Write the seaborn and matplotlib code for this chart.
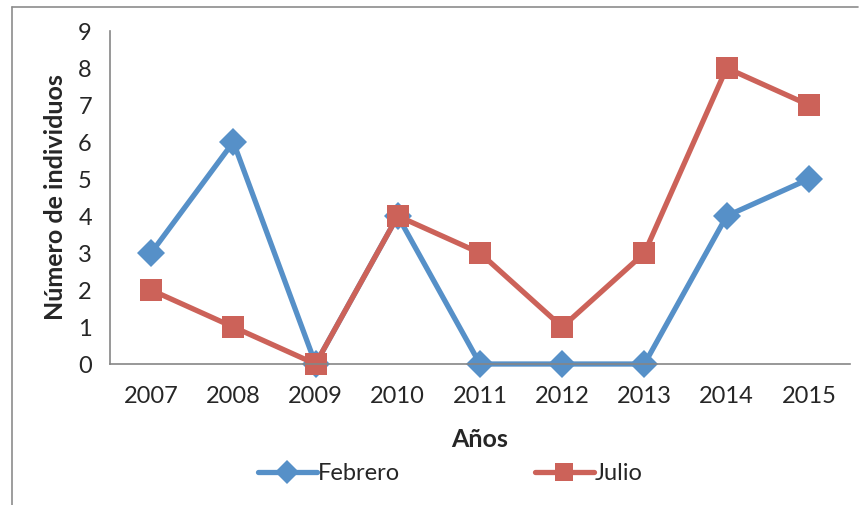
import numpy as np
import pandas as pd
import matplotlib.pyplot as plt
import seaborn as sns
from matplotlib.lines import Line2D

years = ['2007', '2008', '2009', '2010', '2011', '2012', '2013', '2014', '2015']
febrero = [3, 6, 0, 4, 0, 0, 0, 4, 5]
julio = [2, 1, 0, 4, 3, 1, 3, 8, 7]

blue = '#5690C8'
red = '#CC6259'
grey = '#868686'

sns.set_style('white')
plt.rcParams['font.family'] = ['Lato', 'DejaVu Sans']

df = pd.DataFrame({'Año': years * 2,
                   'Individuos': febrero + julio,
                   'Mes': ['Febrero'] * len(years) + ['Julio'] * len(years)})

fig = plt.figure(figsize=(8.64, 5.05), dpi=100)
ax = fig.add_axes([0.1273, 0.2792, 0.8565, 0.6594])

sns.lineplot(data=df, x='Año', y='Individuos', hue='Mes', style='Mes',
             palette={'Febrero': blue, 'Julio': red},
             markers={'Febrero': 'D', 'Julio': 's'}, dashes=False,
             linewidth=3.8, markersize=14, markeredgewidth=0,
             sort=False, legend=False, ax=ax)
# squares a bit bigger than diamonds
ax.lines[1].set_markersize(15.5)

ax.set_xlim(-0.5, len(years) - 0.5)
ax.set_ylim(0, 9)
ax.set_yticks(range(0, 10))
ax.set_xticks(np.arange(len(years)))
ax.set_xticklabels(years)
ax.set_xticks(np.arange(-0.5, len(years)), minor=True)
ax.tick_params(axis='x', which='major', length=0, pad=16, labelsize=17)
ax.tick_params(axis='x', which='minor', length=7, width=1.2, color=grey, direction='out')
ax.tick_params(axis='y', length=7, width=1.2, color=grey, direction='out', pad=6, labelsize=17)
for s in ['top', 'right']:
    ax.spines[s].set_visible(False)
for s in ['left', 'bottom']:
    ax.spines[s].set_color(grey)
    ax.spines[s].set_linewidth(1.2)
for m in ax.lines:
    m.set_clip_on(False)

ax.set_xlabel('Años', fontsize=18, fontweight='bold', labelpad=15)
ax.set_ylabel('Número de individuos', fontsize=18, fontweight='bold', labelpad=8)

handles = [Line2D([], [], color=blue, lw=3.8, marker='D', markersize=12, markeredgewidth=0),
           Line2D([], [], color=red, lw=3.8, marker='s', markersize=13, markeredgewidth=0)]
fig.legend(handles, ['Febrero', 'Julio'], loc='center', bbox_to_anchor=(0.521, 0.062),
           ncol=2, frameon=False, fontsize=17, handlelength=2.5, handletextpad=0.05,
           columnspacing=5.7)

# chart area border
fig.add_artist(Line2D([12 / 864, 858 / 864], [1 - 7 / 505] * 2, color='#8C8C8C', lw=1.2))
fig.add_artist(Line2D([12 / 864] * 2, [1 - 7 / 505, 0], color='#8C8C8C', lw=1.2))

fig.savefig('out.png', dpi=100)
